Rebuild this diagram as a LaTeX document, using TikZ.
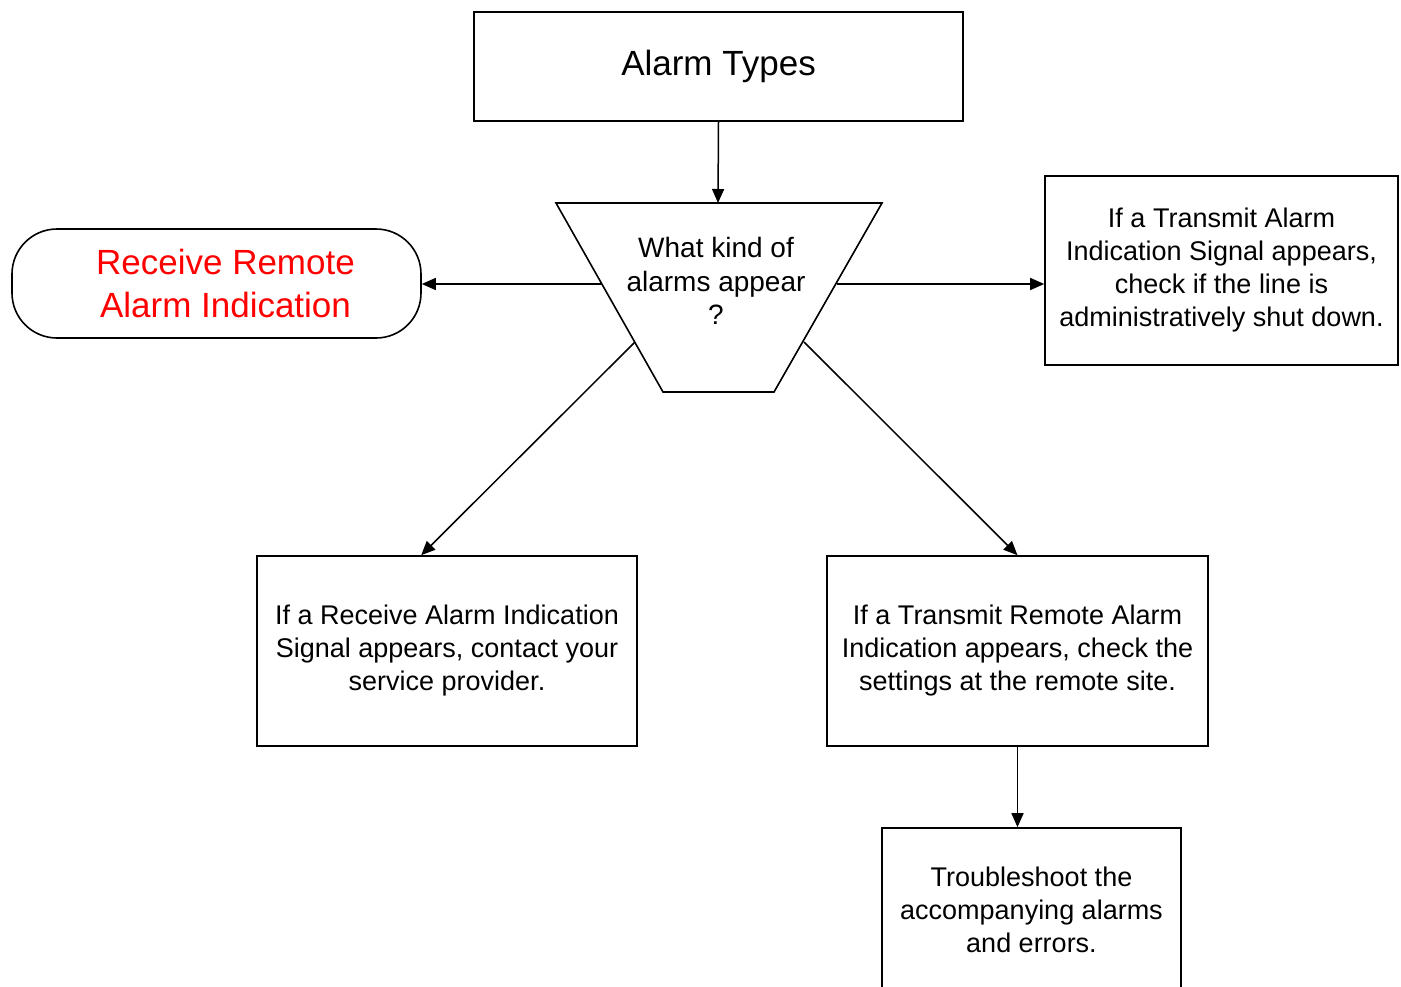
\documentclass[tikz,border=0pt]{standalone}
\usepackage{fontspec}
\setmainfont{Liberation Sans}
\usetikzlibrary{arrows.meta}
\definecolor{alarmred}{RGB}{255,0,0}
\begin{document}
\begin{tikzpicture}[x=1pt,y=-1pt,
  box/.style={draw,line width=1.6pt,align=center,inner sep=0pt,font=\fontsize{27}{33}\selectfont},
  arr/.style={line width=1.5pt,-{Triangle[length=14pt,width=12pt]}},
]
\useasboundingbox (0,0) rectangle (1401,986);
\clip (0,0) rectangle (1401,986);
\fill[white] (0,0) rectangle (1401,986);

% top box
\node[box,minimum width=489pt,minimum height=109pt,font=\fontsize{35}{42}\selectfont] (top) at (718.5,66.5) {Alarm Types};

% trapezoid decision
\draw[line width=1.6pt] (556,203) -- (882,203) -- (774,392) -- (663,392) -- cycle;
\node[align=center,inner sep=0pt,font=\fontsize{28}{33.5}\selectfont] (q) at (716,281) {What kind of\\alarms appear\\?};
\coordinate (qT) at (718,203);
\coordinate (qL) at (601,284);
\coordinate (qR) at (837,284);
\coordinate (qLL) at (635,342);
\coordinate (qRR) at (804,342);

% stadium
\node[draw,line width=1.6pt,rounded corners=45pt,minimum width=409pt,minimum height=109pt,align=center,inner sep=0pt,text=alarmred,font=\fontsize{35}{43}\selectfont] (stad) at (216.5,283.5) {\hspace*{18pt}Receive Remote\\\hspace*{18pt}Alarm Indication};

% right box
\node[box,minimum width=353pt,minimum height=189pt] (right) at (1221.5,270.5) {If a Transmit Alarm\\Indication Signal appears,\\check if the line is\\administratively shut down.};

% lower left
\node[box,minimum width=380pt,minimum height=190pt] (ll) at (447,651) {If a Receive Alarm Indication\\Signal appears, contact your\\service provider.};

% lower right
\node[box,minimum width=381pt,minimum height=190pt] (lr) at (1017.5,651) {If a Transmit Remote Alarm\\Indication appears, check the\\settings at the remote site.};

% bottom
\node[box,minimum width=299pt,minimum height=164pt] (bot) at (1031.5,910) {Troubleshoot the\\accompanying alarms\\and errors.};

% connectors
\draw[arr] (top.south) -- (qT);
\draw[arr] (qL) -- (stad.east |- qL);
\draw[arr] (qR) -- (qR -| right.west);
\draw[arr] (qLL) -- ([xshift=165pt]ll.north west);
\draw[arr] (qRR) -- (lr.north);
\draw[arr] (lr.south) -- (lr.south |- bot.north);
\end{tikzpicture}
\end{document}
